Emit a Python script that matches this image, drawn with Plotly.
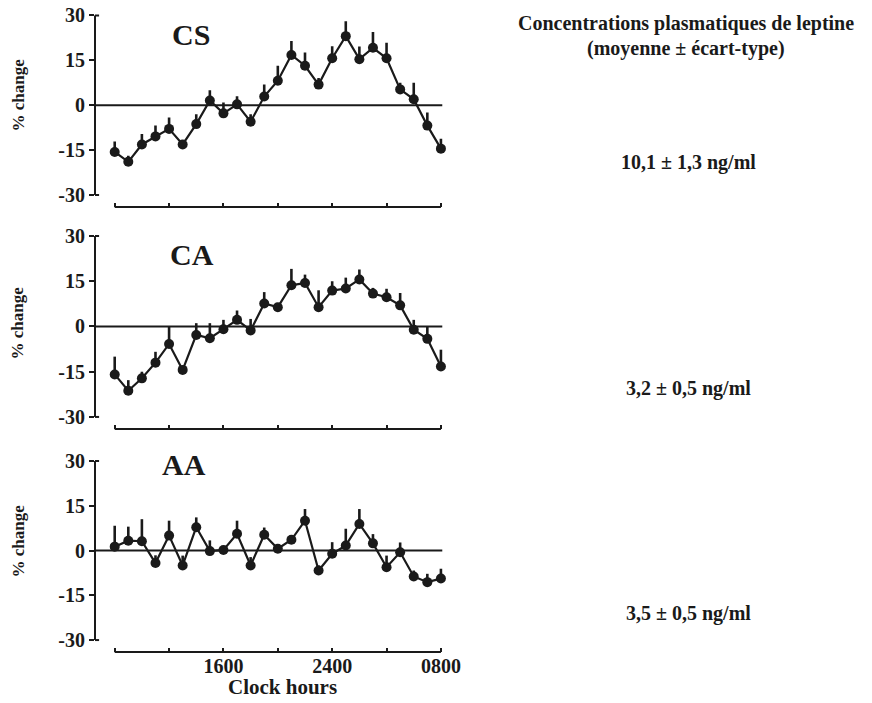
import plotly.graph_objects as go

W, H = 872, 703
OFF = 8  # page body margin: figure is drawn 8px right/down in the window

# hours after 08:00 (0 = 0800, 24 = 0800 next day)
hours = list(range(25))

cs_values = [-15.6, -18.9, -13.1, -10.4, -7.9, -13.1, -6.3, 1.6, -2.7, 0.3, -5.5, 2.9, 8.2,
             16.8, 13.2, 6.9, 15.7, 23.1, 15.4, 19.2, 15.7, 5.3, 2.0, -6.8, -14.5]
cs_err = [3.5, 2.0, 3.5, 3.6, 3.8, 1.3, 3.3, 3.4, 3.6, 2.7, 2.5, 4.0, 5.0,
          4.7, 4.4, 2.2, 4.0, 5.0, 4.2, 5.3, 5.2, 2.2, 5.5, 4.4, 3.3]

ca_values = [-15.9, -21.3, -17.2, -12.0, -5.8, -14.4, -2.8, -3.9, -0.9, 2.2, -1.3, 7.6, 6.4,
             13.7, 14.4, 6.4, 11.9, 12.6, 15.6, 10.9, 9.7, 7.0, -1.1, -4.1, -13.3]
ca_err = [5.9, 3.5, 2.2, 3.6, 5.8, 0.6, 3.9, 5.0, 3.1, 3.1, 3.8, 3.8, 1.3,
          5.4, 2.8, 5.6, 3.1, 3.6, 3.3, 1.9, 2.8, 4.1, 3.3, 4.1, 5.6]

aa_values = [1.3, 3.3, 3.1, -4.2, 5.0, -5.0, 7.8, -0.2, 0.2, 5.6, -5.0, 5.3, 0.6,
             3.6, 10.0, -6.7, -1.1, 1.7, 8.9, 2.4, -5.6, -0.6, -8.7, -10.6, -9.4]
aa_err = [7.0, 4.7, 7.4, 2.6, 5.0, 3.3, 3.3, 3.6, 0.9, 4.4, 2.8, 2.4, 0.6,
          1.4, 3.9, 1.7, 3.9, 5.6, 5.0, 3.1, 3.9, 3.3, 2.0, 2.8, 3.3]

groups = ["CS", "CA", "AA"]
concentrations = ["10,1 ± 1,3 ng/ml", "3,2 ± 0,5 ng/ml", "3,5 ± 0,5 ng/ml"]
title_lines = ["Concentrations plasmatiques de leptine", "(moyenne ± écart-type)"]
x_tickvals = [0, 4, 8, 12, 16, 20, 24]
x_ticktext = ["", "", "1600", "", "2400", "", "0800"]
y_tickvals = [-30, -15, 0, 15, 30]
y_ticktext = ["-30", "-15", "0", "15", "30"]

series = [(cs_values, cs_err), (ca_values, ca_err), (aa_values, aa_err)]

FONT = "Liberation Serif"
INK = "#1a1a1a"

def px_x(p):
    return (p - OFF) / W

def px_y(p):
    return 1 - (p - OFF) / H

# panel window-pixel extents (top, bottom)
panels_px = [(12.5, 207), (233, 429), (458, 652)]
x_dom = [px_x(95), px_x(445)]
XR = [-1.45, 24.3]

fig = go.Figure()
layout = dict(width=W, height=H, margin=dict(l=0, r=0, t=0, b=0, autoexpand=False),
              paper_bgcolor="white", plot_bgcolor="white", showlegend=False,
              font=dict(family=FONT, color=INK, size=20, weight="bold"))

shapes = []
annotations = []
for i, ((vals, err), (top, bot)) in enumerate(zip(series, panels_px)):
    n = i + 1
    xa = "x" if n == 1 else f"x{n}"
    ya = "y" if n == 1 else f"y{n}"
    fig.add_trace(go.Scatter(
        x=hours, y=vals, xaxis=xa, yaxis=ya, mode="lines+markers",
        line=dict(color=INK, width=2.2),
        marker=dict(color=INK, size=10, symbol="circle"),
        error_y=dict(type="data", symmetric=False, array=err,
                     arrayminus=[0] * len(err), width=0, thickness=2.6,
                     color=INK),
        cliponaxis=False,
    ))
    last = (n == 3)
    layout[f"xaxis{'' if n == 1 else n}"] = dict(
        domain=x_dom, range=XR, anchor=ya, automargin=False,
        tickvals=x_tickvals, ticktext=x_ticktext if last else [""] * 7,
        ticks="inside", ticklen=4, tickwidth=2, tickcolor=INK,
        showline=False, showgrid=False, zeroline=False, ticklabeloverflow="allow",
        tickfont=dict(family=FONT, size=20, weight="bold", color=INK),
    )
    layout[f"yaxis{'' if n == 1 else n}"] = dict(
        domain=[px_y(bot), px_y(top)], range=[-34, 31], anchor=xa, automargin=False,
        tickvals=y_tickvals, ticktext=y_ticktext, ticks="outside", ticklen=5,
        tickwidth=2, tickcolor=INK, showline=False, showgrid=False, zeroline=False,
        ticklabeloverflow="allow",
        tickfont=dict(family=FONT, size=20, weight="bold", color=INK),
    )
    # y axis line
    shapes.append(dict(type="line", xref=f"{xa} domain", yref=ya, x0=0, x1=0,
                       y0=-30, y1=30, line=dict(color=INK, width=2)))
    # bracket ends
    for yv in (-30, 30):
        shapes.append(dict(type="line", xref=xa, yref=ya, x0=XR[0], x1=XR[0] + 0.3,
                           y0=yv, y1=yv, line=dict(color=INK, width=2)))
    # zero line
    shapes.append(dict(type="line", xref=xa, yref=ya, x0=XR[0], x1=24.1,
                       y0=0, y1=0, line=dict(color=INK, width=2)))
    # x axis line
    shapes.append(dict(type="line", xref=xa, yref=f"{ya} domain", x0=0, x1=24,
                       y0=0, y1=0, line=dict(color=INK, width=2)))

    # group label
    lab_pos = [(191, 35), (192, 255), (184, 464)][i]
    annotations.append(dict(text=groups[i], xref="paper", yref="paper",
                            x=px_x(lab_pos[0]), y=px_y(lab_pos[1]),
                            xanchor="center", yanchor="middle", showarrow=False,
                            font=dict(family=FONT, size=30, weight="bold", color=INK)))
    # y title
    yt = [95, 323, 541][i]
    annotations.append(dict(text="% change", xref="paper", yref="paper",
                            x=px_x(17.5), y=px_y(yt), textangle=-90,
                            xanchor="center", yanchor="middle", showarrow=False,
                            font=dict(family=FONT, size=17, weight="bold", color=INK)))
    # concentration text
    cy = [162, 388, 613][i]
    annotations.append(dict(text=concentrations[i], xref="paper", yref="paper",
                            x=px_x(688), y=px_y(cy), xanchor="center",
                            yanchor="middle", showarrow=False,
                            font=dict(family=FONT, size=20, weight="bold", color=INK)))

for txt, ty in zip(title_lines, [24, 48]):
    annotations.append(dict(text=txt, xref="paper", yref="paper", x=px_x(686),
                            y=px_y(ty), xanchor="center", yanchor="middle",
                            showarrow=False,
                            font=dict(family=FONT, size=20, weight="bold", color=INK)))

annotations.append(dict(text="Clock hours", xref="paper", yref="paper", x=px_x(282),
                        y=px_y(687), xanchor="center", yanchor="middle", showarrow=False,
                        font=dict(family=FONT, size=21, weight="bold", color=INK)))

layout["shapes"] = shapes
layout["annotations"] = annotations
fig.update_layout(**layout)
fig.write_html("out.html")
